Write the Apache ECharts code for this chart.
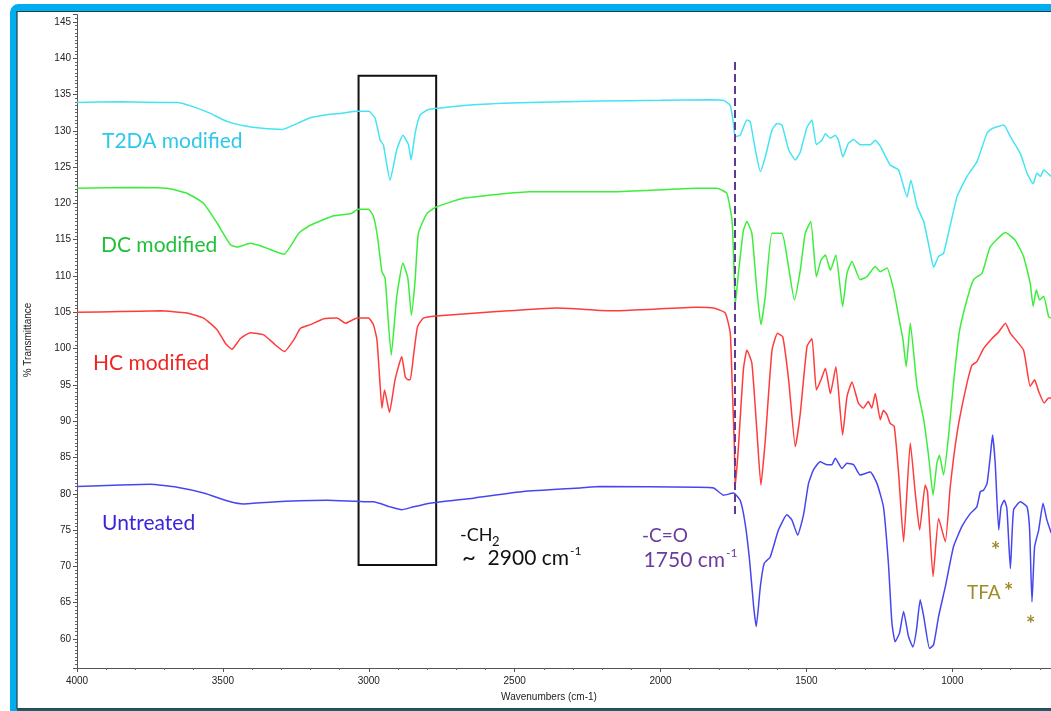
<!DOCTYPE html>
<html><head><meta charset="utf-8">
<script src="https://cdn.jsdelivr.net/npm/echarts@6/dist/echarts.min.js"></script>
<style>html,body{margin:0;padding:0;background:#fff}#c{width:1051px;height:711px}</style>
</head><body><div id="c"></div>
<script>
// [wavenumber (cm-1), % transmittance]
const t2da = [[4000,133.9],[3850,134.0],[3700,133.9],[3657,133.9],[3600,133.3],[3543,132.4],[3486,131.3],[3429,130.7],[3373,130.4],[3297,130.2],[3246,131.0],[3201,131.8],[3133,132.3],[3098,132.4],[3040,132.7],[3000,132.7],[2978,131.7],[2961,128.7],[2950,128.1],[2927,123.2],[2904,127.4],[2883,129.4],[2864,128.1],[2855,126.0],[2841,129.7],[2824,132.2],[2797,132.9],[2767,133.1],[2642,133.6],[2447,133.9],[2207,134.1],[2000,134.2],[1830,134.3],[1784,134.2],[1761,133.5],[1750,131.0],[1744,129.2],[1727,129.4],[1704,131.5],[1693,131.3],[1675,127.4],[1658,124.4],[1641,126.4],[1618,130.1],[1601,131.0],[1584,130.8],[1561,127.4],[1538,126.0],[1521,127.1],[1498,130.5],[1481,131.5],[1466,128.1],[1447,128.7],[1435,129.6],[1418,129.0],[1401,129.4],[1390,128.7],[1375,126.4],[1356,128.3],[1338,128.8],[1316,128.1],[1281,128.1],[1264,128.7],[1247,127.9],[1213,125.3],[1184,124.6],[1155,120.9],[1142,123.2],[1121,119.6],[1098,117.5],[1075,113.1],[1064,111.2],[1047,112.7],[1030,113.1],[984,120.9],[950,123.7],[915,125.8],[881,129.7],[864,130.3],[824,130.8],[801,129.2],[767,126.9],[744,124.2],[723,122.7],[710,124.2],[698,123.7],[687,124.6],[661,123.7]];
const dc = [[4000,122.1],[3800,122.2],[3691,122.1],[3623,121.4],[3566,120.0],[3520,117.3],[3474,114.3],[3451,114.0],[3406,114.5],[3360,114.0],[3291,113.0],[3240,115.9],[3200,117.0],[3120,118.3],[3060,118.6],[3037,119.2],[3001,119.2],[2984,118.2],[2970,115.4],[2955,110.6],[2944,109.7],[2923,99.1],[2904,107.2],[2883,111.8],[2866,109.7],[2854,104.6],[2841,109.5],[2830,115.9],[2801,118.6],[2769,119.5],[2676,120.7],[2447,121.6],[2161,121.6],[1875,122.1],[1807,122.1],[1773,121.4],[1755,117.7],[1750,113.1],[1744,106.0],[1733,110.4],[1716,116.3],[1704,117.5],[1687,115.9],[1670,108.1],[1656,103.3],[1641,107.2],[1618,115.9],[1584,115.9],[1567,112.7],[1541,106.7],[1521,110.8],[1504,115.9],[1485,117.5],[1466,109.9],[1450,112.2],[1435,112.9],[1418,110.8],[1399,112.9],[1376,105.8],[1361,110.4],[1344,112.0],[1316,109.5],[1293,109.9],[1264,111.3],[1247,110.6],[1224,111.1],[1201,108.1],[1184,104.4],[1169,101.2],[1158,97.5],[1144,103.5],[1121,94.8],[1098,90.2],[1081,85.1],[1066,79.8],[1053,84.2],[1044,85.3],[1030,82.6],[1013,87.9],[996,95.2],[976,102.3],[950,106.7],[927,109.5],[898,110.4],[870,114.0],[818,116.0],[784,114.9],[756,112.7],[733,109.0],[723,105.8],[712,108.1],[701,106.7],[687,107.2],[670,104.4],[661,104.2]];
const hc = [[4000,105.0],[3850,105.1],[3714,105.2],[3623,104.9],[3566,104.2],[3520,102.6],[3491,100.7],[3469,99.9],[3440,101.4],[3406,102.2],[3360,101.9],[3320,100.5],[3289,99.6],[3257,101.2],[3234,102.8],[3200,103.3],[3154,104.1],[3109,104.2],[3080,103.5],[3040,104.2],[3001,104.2],[2984,103.3],[2972,101.2],[2963,96.1],[2955,91.8],[2946,94.3],[2929,91.2],[2910,95.7],[2887,98.9],[2875,96.1],[2866,95.7],[2858,95.7],[2847,98.9],[2833,103.0],[2813,104.2],[2769,104.5],[2561,105.1],[2355,105.6],[2161,105.2],[2047,105.4],[1875,105.7],[1818,105.6],[1778,104.9],[1761,102.1],[1755,95.7],[1747,86.5],[1744,81.0],[1733,86.5],[1716,97.1],[1704,99.8],[1687,98.0],[1670,88.8],[1656,81.2],[1641,87.4],[1618,99.8],[1599,102.1],[1581,101.6],[1561,95.7],[1538,86.5],[1521,91.1],[1498,100.3],[1481,101.4],[1466,94.3],[1450,95.7],[1435,97.3],[1418,93.8],[1399,97.5],[1376,88.1],[1361,93.4],[1344,95.4],[1322,92.5],[1305,91.8],[1288,92.7],[1276,91.8],[1264,93.8],[1247,90.2],[1236,91.5],[1224,90.9],[1213,89.7],[1199,89.3],[1184,82.8],[1167,73.4],[1144,87.0],[1127,80.1],[1112,75.0],[1093,81.2],[1085,80.3],[1066,68.6],[1047,76.6],[1024,73.4],[1007,81.0],[984,88.3],[956,94.1],[933,97.7],[916,98.2],[893,100.0],[864,101.4],[841,102.3],[818,103.5],[801,102.1],[756,99.8],[733,94.8],[718,95.7],[704,94.1],[685,92.5],[670,93.2],[661,93.2]];
const untreated = [[4000,81.0],[3850,81.2],[3749,81.3],[3657,80.9],[3566,80.1],[3474,78.9],[3429,78.6],[3314,78.9],[3143,79.1],[3006,78.9],[2984,78.9],[2927,78.2],[2887,77.8],[2847,78.2],[2790,78.7],[2641,79.4],[2470,80.3],[2275,80.8],[2207,81.0],[1875,80.9],[1818,80.8],[1784,79.8],[1750,80.1],[1727,79.1],[1710,75.9],[1695,70.9],[1681,64.5],[1672,61.7],[1658,67.2],[1645,70.4],[1624,71.3],[1596,75.0],[1567,77.1],[1550,76.4],[1530,74.3],[1510,77.1],[1493,81.4],[1476,83.3],[1453,84.4],[1430,84.0],[1413,84.0],[1401,84.9],[1378,83.5],[1361,84.2],[1338,84.0],[1316,82.6],[1281,83.0],[1258,81.4],[1236,78.2],[1219,70.4],[1207,62.2],[1196,59.6],[1181,60.8],[1167,63.8],[1150,60.3],[1135,58.9],[1123,61.2],[1110,65.4],[1098,63.1],[1078,58.7],[1064,59.2],[1047,63.1],[1024,67.2],[996,72.7],[967,75.5],[938,77.3],[916,78.2],[904,80.3],[893,80.5],[881,81.4],[870,85.1],[862,88.1],[853,84.2],[841,75.0],[833,78.2],[822,79.1],[813,78.0],[801,69.7],[790,77.8],[767,78.9],[744,78.2],[735,75.0],[727,65.1],[718,72.7],[704,75.0],[689,78.7],[676,76.4],[661,74.6]];
const seriesNames = ['T2DA modified','DC modified','HC modified','Untreated'];
const ch2Box = [[3035,137.6],[2769,70.2]];
const coLine = [[1746,139.5],[1746,76.8]];

const lineCol = ['#44e4f2','#3cee3c','#ff3b3b','#4646f0'];
const textCol = ['#2ec8ea','#22c03a','#f02424','#3a24dc'];
const datas = [t2da, dc, hc, untreated];

const chart = echarts.init(document.getElementById('c'), null, {renderer:'canvas'});
const FONT = 'Lato';
const series = datas.map((d,i)=>({
  name: seriesNames[i], type:'line', data:d, showSymbol:false, smooth:0.15,
  lineStyle:{color:lineCol[i], width:1.5}, itemStyle:{color:lineCol[i]}, silent:true, animation:false, z:3
}));
series[0].markArea = {silent:true, itemStyle:{color:'rgba(0,0,0,0)', borderColor:'#111', borderWidth:2},
  data:[[{xAxis:ch2Box[0][0], yAxis:ch2Box[0][1]},{xAxis:ch2Box[1][0], yAxis:ch2Box[1][1]}]]};
series[0].markLine = {silent:true, symbol:['none','none'], label:{show:false},
  lineStyle:{color:'#5e3a92', width:2, type:[8,4]},
  data:[[{coord:coLine[0]},{coord:coLine[1]}]]};

function txt(x,y,text,color,font,align){
  return {type:'text', x:x, y:y, z:10, silent:true, style:{text:text, fill:color, font:font, textAlign:align||'left', textVerticalAlign:'middle'}};
}
const labelPos = [[102,141],[101,245],[93,363],[102,523]];
const graphics = [];
labelPos.forEach((p,i)=>graphics.push(txt(p[0],p[1],seriesNames[i],textCol[i],'21px '+FONT)));
const purple = '#6a3c9c', olive = '#a08a2a';
graphics.push(txt(460,535,'-CH','#111','18px '+FONT));
graphics.push(txt(492,542,'2','#111','13px '+FONT));
graphics.push(txt(462,557,'~','#111','24px '+FONT));
graphics.push(txt(569,558,'2900 cm','#111','21px '+FONT,'right'));
graphics.push(txt(570,551,'-1','#111','12px '+FONT));
graphics.push(txt(642,536,'-C=O',purple,'19px '+FONT));
graphics.push(txt(725,560,'1750 cm',purple,'21px '+FONT,'right'));
graphics.push(txt(726,553,'-1',purple,'12px '+FONT));
graphics.push(txt(967,593,'TFA',olive,'19px '+FONT));
graphics.push(txt(1004,592,'*',olive,'bold 22px '+FONT));
graphics.push(txt(991,551,'*',olive,'bold 22px '+FONT));
graphics.push(txt(1026,625,'*',olive,'bold 22px '+FONT));
graphics.push(txt(549,697,'Wavenumbers (cm-1)','#222','10px "Liberation Sans"','center'));
graphics.push({type:'text', x:28, y:340, rotation:Math.PI/2, z:10, silent:true, style:{text:'% Transmittance', fill:'#222', font:'10px "Liberation Sans"', textAlign:'center', textVerticalAlign:'middle'}});
// frame
graphics.push({type:'rect', z:20, silent:true, shape:{x:13.5,y:7.5,width:1100,height:740,r:5}, style:{fill:null, stroke:'#00aeef', lineWidth:7}});
graphics.push({type:'rect', z:21, silent:true, shape:{x:17,y:11.5,width:1100,height:697}, style:{fill:null, stroke:'#1d3f4a', lineWidth:1.2}});
graphics.push({type:'rect', z:21, silent:true, shape:{x:17,y:708.5,width:1100,height:3}, style:{fill:'#1f5b68'}});

chart.setOption({
  animation:false,
  backgroundColor:'#fff',
  grid:{left:77, top:14.7, width:1021.2, height:653.3, containLabel:false, outerBoundsMode:'none'},
  xAxis:{type:'value', inverse:true, min:500, max:4000, interval:500,
    axisLine:{show:true, onZero:false, lineStyle:{color:'#555', width:1}},
    axisTick:{show:true, length:4, lineStyle:{color:'#555'}},
    minorTick:{show:true, splitNumber:5, length:2, lineStyle:{color:'#666'}},
    axisLabel:{color:'#222', fontSize:10, fontFamily:'Liberation Sans', margin:8, formatter:v=>String(v)},
    splitLine:{show:false}},
  yAxis:{type:'value', min:56, max:146, splitNumber:18,
    axisLine:{show:true, onZero:false, lineStyle:{color:'#555', width:1}},
    axisTick:{show:true, length:4, lineStyle:{color:'#555'}},
    minorTick:{show:true, splitNumber:10, length:2, lineStyle:{color:'#666'}},
    axisLabel:{color:'#222', fontSize:10, fontFamily:'Liberation Sans', margin:6, showMinLabel:false, showMaxLabel:false, formatter:v=>String(v)},
    splitLine:{show:false}},
  series:series,
  graphic:graphics
});
</script></body></html>
